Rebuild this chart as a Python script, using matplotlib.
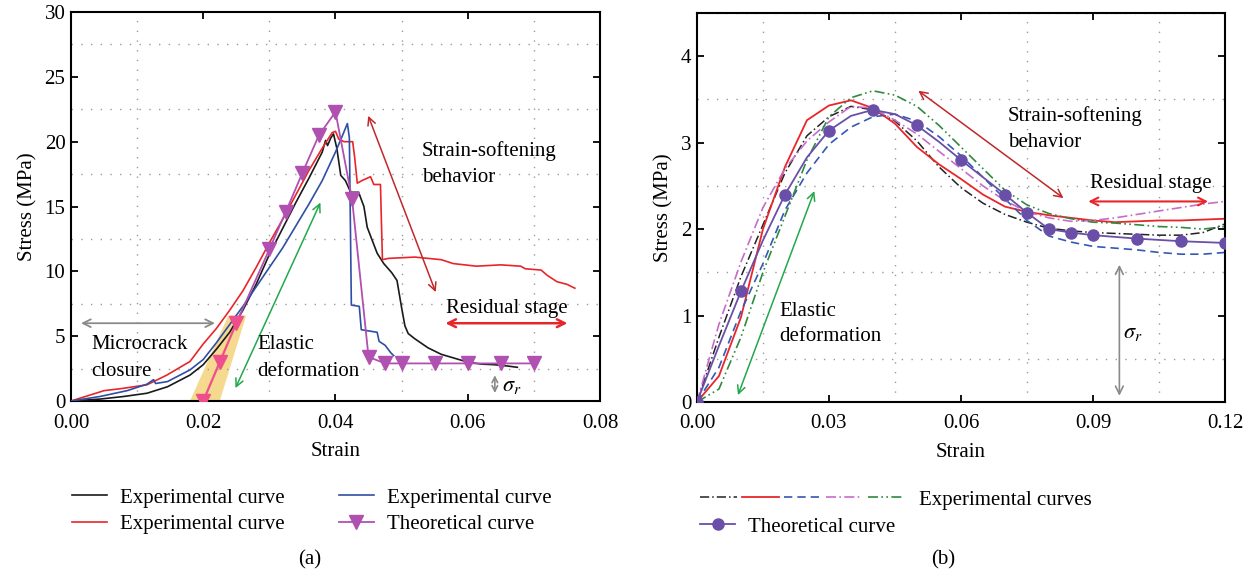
import numpy as np
import matplotlib
matplotlib.use("Agg")
import matplotlib.pyplot as plt
from matplotlib.legend_handler import HandlerTuple

plt.rcParams['font.family'] = ['Liberation Serif', 'DejaVu Serif']
plt.rcParams['mathtext.fontset'] = 'stix'

# ---------------- panel (a) data ----------------
black_a_x = [0, 0.0044, 0.008, 0.0115, 0.0146, 0.018, 0.020, 0.022, 0.024, 0.026, 0.028, 0.030,
             0.032, 0.034, 0.036, 0.038, 0.0385, 0.0388, 0.0393, 0.0397, 0.0402, 0.0408,
             0.0415, 0.0423, 0.0435, 0.0443, 0.0448, 0.0463, 0.0473, 0.0485, 0.0493,
             0.050, 0.0505, 0.051, 0.052, 0.054, 0.056, 0.058, 0.060, 0.062, 0.064, 0.066, 0.0675]
black_a_y = [0, 0.15, 0.35, 0.6, 1.1, 2.0, 2.8, 4.0, 5.3, 7.0, 9.0, 11.3,
             13.3, 15.3, 17.2, 19.2, 20.1, 19.7, 20.3, 20.6, 19.5, 17.4,
             17.0, 16.1, 16.1, 15.0, 13.4, 11.4, 10.6, 9.9, 9.3,
             7.2, 5.8, 5.2, 4.8, 4.1, 3.6, 3.3, 3.0, 2.85, 2.8, 2.7, 2.6]

red_a_x = [0, 0.0025, 0.0044, 0.005, 0.0075, 0.0115, 0.0145, 0.018, 0.020, 0.022, 0.024, 0.026,
           0.028, 0.030, 0.032, 0.034, 0.036, 0.038, 0.0395, 0.040, 0.0405, 0.0413, 0.0426,
           0.0429, 0.0433, 0.0440, 0.0453, 0.0458, 0.0468, 0.0471, 0.048, 0.052, 0.056,
           0.0578, 0.0613, 0.065, 0.068, 0.0687, 0.0711, 0.072, 0.0735, 0.075, 0.0762]
red_a_y = [0, 0.4, 0.7, 0.8, 0.95, 1.25, 2.0, 3.05, 4.4, 5.6, 7.0, 8.5,
           10.3, 12.2, 14.0, 15.9, 17.8, 19.5, 20.7, 20.8, 20.2, 20.0, 20.0,
           18.8, 16.8, 17.0, 17.3, 16.7, 16.7, 10.9, 11.0, 11.1, 10.9,
           10.6, 10.4, 10.5, 10.4, 10.2, 10.1, 9.7, 9.2, 9.0, 8.7]

blue_a_x = [0, 0.0044, 0.0085, 0.0115, 0.0125, 0.0128, 0.0146, 0.018, 0.020, 0.022, 0.024, 0.026,
            0.028, 0.030, 0.032, 0.034, 0.036, 0.038, 0.040, 0.041, 0.0418, 0.0421, 0.0424,
            0.0436, 0.0439, 0.0463, 0.0466, 0.0475, 0.0484, 0.0488]
blue_a_y = [0, 0.35, 0.8, 1.3, 1.65, 1.35, 1.5, 2.4, 3.2, 4.5, 5.9, 7.3,
            8.8, 10.3, 11.8, 13.5, 15.2, 17.0, 19.2, 20.4, 21.4, 20.3, 7.4,
            7.3, 5.5, 5.3, 4.6, 4.3, 3.7, 3.5]

theo_pink_x = [0.020, 0.0225, 0.025]
theo_pink_y = [0.0, 3.0, 6.0]
theo_a_x = [0.025, 0.030, 0.0325, 0.035, 0.0375, 0.040, 0.0425, 0.045, 0.0475, 0.050, 0.055, 0.060, 0.065, 0.070]
theo_a_y = [6.0, 11.7, 14.6, 17.6, 20.5, 22.3, 15.6, 3.4, 2.9, 2.9, 2.9, 2.9, 2.9, 2.9]

# ---------------- panel (b) data ----------------
theo_b_x = [0, 0.005, 0.010, 0.015, 0.020, 0.025, 0.030, 0.035, 0.040, 0.045, 0.050, 0.055,
            0.060, 0.065, 0.070, 0.075, 0.080, 0.085, 0.090, 0.100, 0.110, 0.120]
theo_b_y = [0, 0.65, 1.28, 1.87, 2.40, 2.83, 3.14, 3.31, 3.38, 3.33, 3.20, 3.01,
            2.80, 2.60, 2.40, 2.19, 2.00, 1.96, 1.93, 1.89, 1.86, 1.84]
theo_b_marks = [0, 2, 4, 6, 8, 10, 12, 14, 15, 16, 17, 18, 19, 20, 21]

exp_b_x = [0, 0.005, 0.010, 0.015, 0.020, 0.025, 0.030, 0.035, 0.040, 0.045, 0.050, 0.055,
           0.060, 0.065, 0.070, 0.075, 0.080, 0.085, 0.090, 0.095, 0.100, 0.105, 0.110, 0.115, 0.120]
black_b_y = [0, 0.75, 1.45, 2.05, 2.65, 3.08, 3.30, 3.42, 3.38, 3.25, 3.02, 2.72,
             2.48, 2.30, 2.17, 2.08, 2.01, 1.98, 1.96, 1.95, 1.94, 1.93, 1.93, 1.96, 2.06]
red_b_y = [0, 0.30, 0.98, 2.00, 2.72, 3.26, 3.43, 3.49, 3.40, 3.22, 2.95, 2.75,
           2.58, 2.40, 2.26, 2.20, 2.16, 2.13, 2.10, 2.08, 2.09, 2.10, 2.10, 2.11, 2.12]
blue_b_y = [0, 0.40, 1.05, 1.60, 2.22, 2.65, 2.98, 3.18, 3.30, 3.33, 3.25, 3.07,
            2.85, 2.60, 2.35, 2.10, 1.92, 1.85, 1.80, 1.78, 1.76, 1.73, 1.71, 1.71, 1.73]
magenta_b_y = [0, 0.90, 1.62, 2.25, 2.70, 3.02, 3.24, 3.42, 3.40, 3.26, 3.10, 2.90,
               2.70, 2.50, 2.33, 2.20, 2.13, 2.09, 2.10, 2.13, 2.17, 2.21, 2.25, 2.29, 2.32]
green_b_y = [0, 0.15, 0.75, 1.50, 2.15, 2.80, 3.30, 3.52, 3.60, 3.55, 3.42, 3.20,
             2.95, 2.70, 2.45, 2.28, 2.18, 2.12, 2.08, 2.07, 2.05, 2.03, 2.02, 2.00, 2.03]

fig = plt.figure(figsize=(12.56, 5.76), dpi=100)
ax1 = fig.add_axes([0.0565, 0.3038, 0.4212, 0.6753])
ax2 = fig.add_axes([0.5549, 0.3021, 0.4204, 0.6753])

FS = 15
GRID = dict(color='#9a9a9a', linestyle=(0, (1, 6)), linewidth=1.0)


def style_axes(ax, xmax, xmaj, xmin_step, ymax, ymaj, ymin_step):
    ax.set_xlim(0, xmax)
    ax.set_ylim(0, ymax)
    ax.set_xticks(np.arange(0, xmax + 1e-9, xmaj))
    ax.set_xticks(np.arange(0, xmax + 1e-9, xmin_step), minor=True)
    ax.set_yticks(np.arange(0, ymax + 1e-9, ymaj))
    ax.set_yticks(np.arange(0, ymax + 1e-9, ymin_step), minor=True)
    ax.grid(which='minor', **GRID)
    ax.tick_params(which='major', direction='in', top=True, right=True, length=5, width=1.3,
                   labelsize=FS)
    ax.tick_params(axis='x', which='major', pad=9)
    ax.tick_params(axis='y', which='major', pad=4)
    ax.tick_params(which='minor', length=0)
    for s in ax.spines.values():
        s.set_linewidth(1.5)
    ax.set_xlabel('Strain', fontsize=FS, labelpad=7)
    ax.set_ylabel('Stress (MPa)', fontsize=FS, labelpad=5)


# ---------------- panel (a) ----------------
style_axes(ax1, 0.08, 0.02, 0.01, 30, 5, 2.5)
ax1.set_xticklabels(['0.00', '0.02', '0.04', '0.06', '0.08'])

band_x = [0.0180, 0.0225, 0.0265, 0.0238]
band_y = [0.0, 0.0, 6.6, 6.6]
ax1.fill(band_x, band_y, color='#f3d37c', alpha=0.85, lw=0, zorder=1)

l_black, = ax1.plot(black_a_x, black_a_y, color='#1a1a1a', lw=1.2, zorder=3)
l_red, = ax1.plot(red_a_x, red_a_y, color='#e8262a', lw=1.2, zorder=3)
l_blue, = ax1.plot(blue_a_x, blue_a_y, color='#2f4ea6', lw=1.2, zorder=3)
l_theo, = ax1.plot(theo_a_x, theo_a_y, color='#b050b0', lw=1.3, marker='v', ms=10,
                   markevery=list(range(1, len(theo_a_x))), zorder=4)
ax1.plot(theo_pink_x, theo_pink_y, color='#ee4f8c', lw=1.6, marker='v', ms=10, zorder=4)

ax1.annotate('', xy=(0.0011, 6.0), xytext=(0.0222, 6.0),
             arrowprops=dict(arrowstyle='<->', color='#8a8a8a', lw=1.3, mutation_scale=14))
ax1.text(0.0031, 4.0, 'Microcrack', fontsize=FS)
ax1.text(0.0031, 1.9, 'closure', fontsize=FS)
ax1.annotate('', xy=(0.0247, 0.8), xytext=(0.0379, 15.5),
             arrowprops=dict(arrowstyle='<->', color='#22a84a', lw=1.1, mutation_scale=14))
ax1.text(0.0282, 4.0, 'Elastic', fontsize=FS)
ax1.text(0.0282, 1.9, 'deformation', fontsize=FS)
ax1.annotate('', xy=(0.0448, 22.2), xytext=(0.0553, 8.2),
             arrowprops=dict(arrowstyle='<->', color='#c0282a', lw=1.1, mutation_scale=14))
ax1.text(0.0531, 18.9, 'Strain-softening', fontsize=FS)
ax1.text(0.0531, 16.9, 'behavior', fontsize=FS)
ax1.annotate('', xy=(0.0562, 6.0), xytext=(0.0755, 6.0),
             arrowprops=dict(arrowstyle='<->', color='#e8262a', lw=1.8, mutation_scale=14))
ax1.text(0.0567, 6.8, 'Residual stage', fontsize=FS)
ax1.annotate('', xy=(0.0641, 2.2), xytext=(0.0641, 0.4),
             arrowprops=dict(arrowstyle='<->', color='#8a8a8a', lw=1.2, mutation_scale=10))
ax1.text(0.0652, 0.8, r'$\sigma_r$', fontsize=FS + 1)

leg1 = fig.legend([l_black, l_red, l_blue, l_theo],
                  ['Experimental curve', 'Experimental curve', 'Experimental curve', 'Theoretical curve'],
                  ncol=2, loc='upper left', bbox_to_anchor=(72 / 1256, 1 - 488 / 576),
                  frameon=False, fontsize=FS, handlelength=1.7, handletextpad=0.6,
                  columnspacing=2.6, labelspacing=0.35, borderpad=0, borderaxespad=0)

# ---------------- panel (b) ----------------
style_axes(ax2, 0.12, 0.03, 0.015, 4.5, 1, 0.5)
ax2.set_xticklabels(['0.00', '0.03', '0.06', '0.09', '0.12'])
ax2.set_yticklabels(['0', '1', '2', '3', '4'])

e1, = ax2.plot(exp_b_x, black_b_y, color='#222222', lw=1.1, linestyle=(0, (6, 2, 1, 2)))
e2, = ax2.plot(exp_b_x, red_b_y, color='#e8262a', lw=1.3)
e3, = ax2.plot(exp_b_x, blue_b_y, color='#3458b4', lw=1.2, linestyle=(0, (5, 3)))
e4, = ax2.plot(exp_b_x, magenta_b_y, color='#c86cc8', lw=1.2, linestyle=(0, (6, 2, 1, 2)))
e5, = ax2.plot(exp_b_x, green_b_y, color='#2f8a3e', lw=1.2, linestyle=(0, (6, 2, 1, 2, 1, 2)))
t2, = ax2.plot(theo_b_x, theo_b_y, color='#6a4fa8', lw=1.3, marker='o', ms=8,
               markevery=theo_b_marks, zorder=4)

ax2.annotate('', xy=(0.0091, 0.05), xytext=(0.0269, 2.47),
             arrowprops=dict(arrowstyle='<->', color='#22a84a', lw=1.1, mutation_scale=14))
ax2.text(0.0187, 1.0, 'Elastic', fontsize=FS)
ax2.text(0.0187, 0.70, 'deformation', fontsize=FS)
ax2.annotate('', xy=(0.0498, 3.62), xytext=(0.0838, 2.34),
             arrowprops=dict(arrowstyle='<->', color='#c0282a', lw=1.1, mutation_scale=14))
ax2.text(0.0706, 3.25, 'Strain-softening', fontsize=FS)
ax2.text(0.0706, 2.95, 'behavior', fontsize=FS)
ax2.annotate('', xy=(0.0883, 2.32), xytext=(0.1168, 2.32),
             arrowprops=dict(arrowstyle='<->', color='#e8262a', lw=1.5, mutation_scale=14))
ax2.text(0.0893, 2.48, 'Residual stage', fontsize=FS)
ax2.annotate('', xy=(0.0960, 1.62), xytext=(0.0960, 0.04),
             arrowprops=dict(arrowstyle='<->', color='#8a8a8a', lw=1.2, mutation_scale=14))
ax2.text(0.0968, 0.74, r'$\sigma_r$', fontsize=FS + 1)

leg2 = fig.legend([(e1, e2, e3, e4, e5)], ['Experimental curves'],
                  handler_map={tuple: HandlerTuple(ndivide=None, pad=0.25)},
                  loc='upper left', bbox_to_anchor=(700 / 1256, 1 - 490 / 576),
                  frameon=False, fontsize=FS, handlelength=9.8, handletextpad=0.7,
                  borderpad=0, borderaxespad=0)
leg3 = fig.legend([t2], ['Theoretical curve'],
                  loc='upper left', bbox_to_anchor=(700 / 1256, 1 - 517 / 576),
                  frameon=False, fontsize=FS, handlelength=1.7, handletextpad=0.6,
                  borderpad=0, borderaxespad=0)

fig.text(310 / 1256, 1 - 560 / 576, '(a)', fontsize=FS, ha='center', va='center')
fig.text(943 / 1256, 1 - 560 / 576, '(b)', fontsize=FS, ha='center', va='center')

fig.savefig('out.png', dpi=100)
